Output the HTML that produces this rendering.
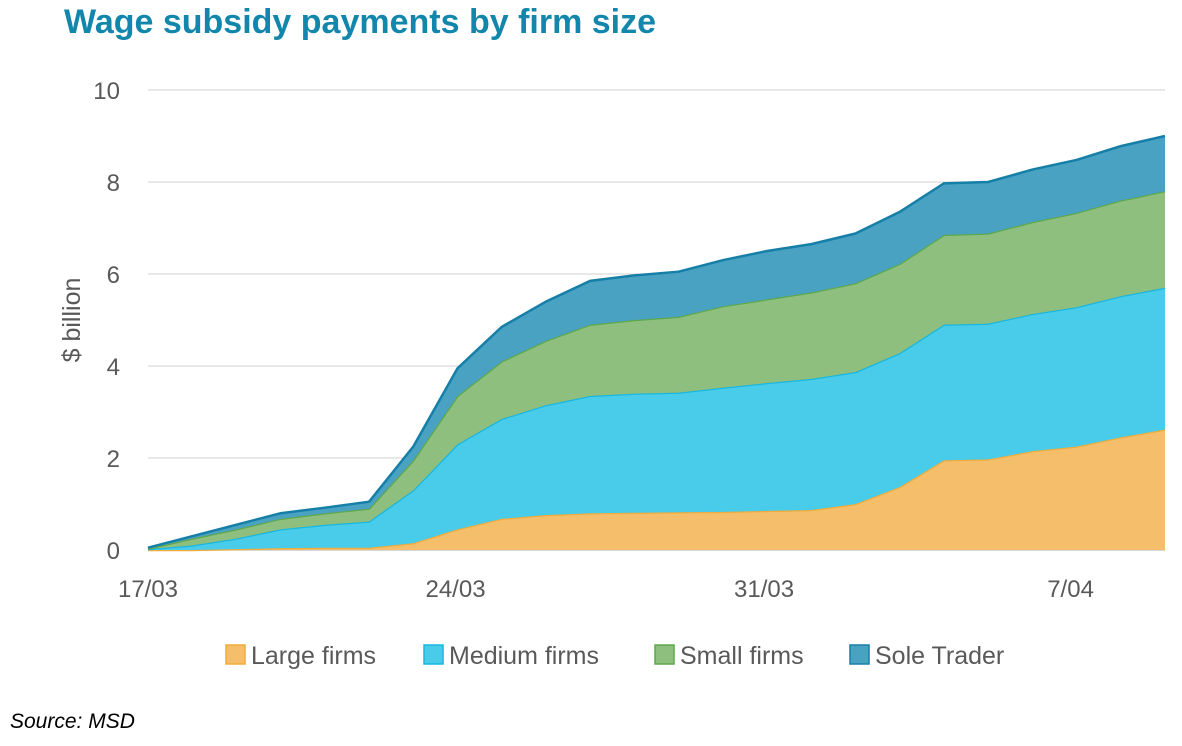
<!DOCTYPE html>
<html><head><meta charset="utf-8"><style>
body{margin:0;width:1182px;height:746px;background:#fff;font-family:"Liberation Sans",sans-serif;overflow:hidden;position:relative}
</style></head><body>
<div style="position:absolute;left:64px;top:3px;font-size:34px;font-weight:bold;color:#1287AB">Wage subsidy payments by firm size</div>
<svg id="chart" width="1182" height="746" style="position:absolute;left:0;top:0"></svg>
<div style="position:absolute;left:10px;top:710px;font-size:21px;font-style:italic;color:#000">Source: MSD</div>
<script>
const categories=["17/03","18/03","19/03","20/03","21/03","22/03","23/03","24/03","25/03","26/03","27/03","28/03","29/03","30/03","31/03","1/04","2/04","3/04","4/04","5/04","6/04","7/04","8/04","9/04"];
const largeFirms=[0,0,0.02,0.04,0.05,0.05,0.15,0.45,0.68,0.76,0.8,0.81,0.82,0.83,0.85,0.87,1.0,1.37,1.95,1.97,2.15,2.25,2.45,2.62];
const mediumFirms=[0.02,0.1,0.23,0.41,0.5,0.57,1.15,1.85,2.17,2.39,2.55,2.59,2.6,2.7,2.78,2.85,2.87,2.91,2.95,2.95,2.98,3.03,3.07,3.08];
const smallFirms=[0.01,0.15,0.2,0.23,0.25,0.28,0.65,1.05,1.25,1.4,1.55,1.6,1.65,1.77,1.82,1.88,1.93,1.94,1.95,1.96,2.0,2.05,2.08,2.1];
const soleTrader=[0.02,0.05,0.1,0.12,0.12,0.15,0.3,0.6,0.75,0.85,0.95,0.97,0.98,1.0,1.05,1.05,1.08,1.13,1.12,1.12,1.14,1.15,1.18,1.2];
const yTicks=[0,2,4,6,8,10];
const xTickIdx=[0,7,14,21];
const series=[{name:"Large firms",v:largeFirms,fill:"#F5BE6B",line:"#F0AC3C"},{name:"Medium firms",v:mediumFirms,fill:"#48CCEA",line:"#19B7E0"},{name:"Small firms",v:smallFirms,fill:"#8EBF7E",line:"#5EA84C"},{name:"Sole Trader",v:soleTrader,fill:"#4AA2C2",line:"#167FA8"}];
const svg=document.getElementById('chart');const NS="http://www.w3.org/2000/svg";
const x0=148,x1=1165,y0=550,y1=90;
const X=i=>x0+i*(x1-x0)/(categories.length-1);
const Y=v=>y0-(v/10)*(y0-y1);
function mk(t,a,p){const e=document.createElementNS(NS,t);for(const k in a)e.setAttribute(k,a[k]);(p||svg).appendChild(e);return e;}
yTicks.forEach(t=>{const g=mk('line',{x1:x0,x2:x1,y1:Y(t),y2:Y(t),stroke:t===0?'#bfbfbf':'#d9d9d9','stroke-width':1.3});

const l=mk('text',{x:120,y:Y(t)+9,'text-anchor':'end','font-size':24,fill:'#595959','font-family':'Liberation Sans'});l.textContent=t;
});
const xShift=[0,-2,-3,-6];
xTickIdx.forEach((i,k)=>{const l=mk('text',{x:X(i)+xShift[k],y:597,'text-anchor':'middle','font-size':24,fill:'#595959','font-family':'Liberation Sans'});l.textContent=categories[i].replace(/^0/,'');
});
const yt=mk('text',{x:0,y:0,transform:'translate(80,320) rotate(-90)','text-anchor':'middle','font-size':25,fill:'#595959','font-family':'Liberation Sans'});yt.textContent='$ billion';

let base=categories.map(()=>0);
series.forEach((s,si)=>{const top=base.map((b,i)=>b+s.v[i]);
let d='M'+top.map((v,i)=>X(i)+','+Y(v)).join('L');
d+='L'+base.map((v,i)=>[X(i),Y(v)]).reverse().map(p=>p.join(',')).join('L')+'Z';
const a=mk('path',{d:d,fill:s.fill});
const ln=mk('path',{d:'M'+top.map((v,i)=>X(i)+','+Y(v)).join('L'),fill:'none',stroke:s.line,'stroke-width':2.5});

base=top;});
const lx=[226,424,655,850];
series.forEach((s,i)=>{const r=mk('rect',{x:lx[i],y:645,width:19,height:19,fill:s.fill,stroke:s.line,'stroke-width':1.5});

const t=mk('text',{x:lx[i]+25,y:664,'font-size':25,fill:'#595959','font-family':'Liberation Sans'});t.textContent=s.name;
});
</script>
</body></html>
